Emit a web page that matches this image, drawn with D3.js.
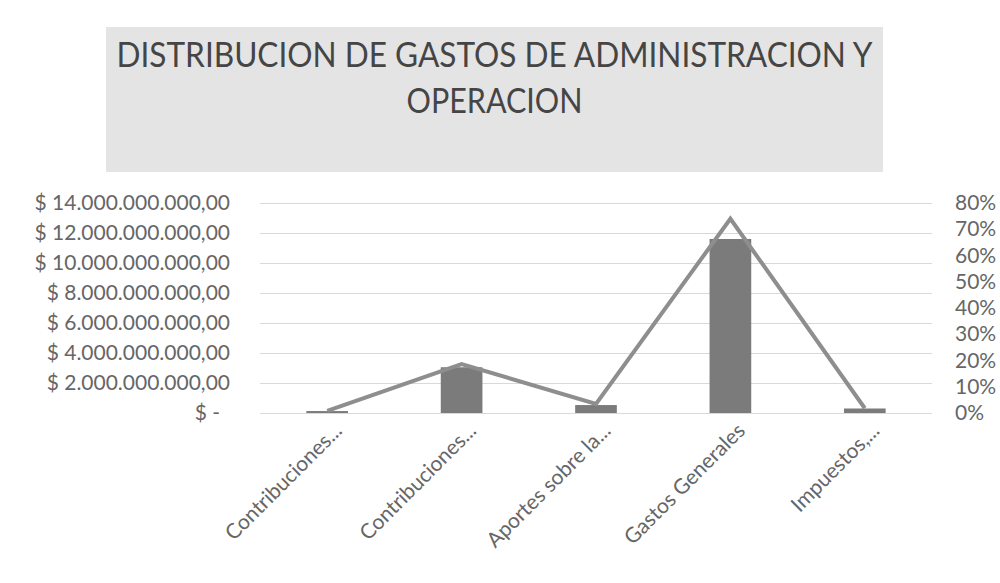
<!DOCTYPE html>
<html>
<head>
<meta charset="utf-8">
<script src="https://cdn.jsdelivr.net/npm/d3@7"></script>
<style>
  body { margin: 0; background: #fff; }
  svg { font-family: Lato, "Open Sans", sans-serif; }
</style>
</head>
<body>
<div class="svg-container"></div>
<script>
// data
const categories = ["Contribuciones...", "Contribuciones...", "Aportes sobre la...", "Gastos Generales", "Impuestos,..."];
const gastos = [0.13e9, 3.05e9, 0.53e9, 11.6e9, 0.3e9];
const porcentaje = [0.008, 0.186, 0.035, 0.74, 0.018];
const leftTicks = [0, 2e9, 4e9, 6e9, 8e9, 10e9, 12e9, 14e9];
const rightTicks = [0, 0.1, 0.2, 0.3, 0.4, 0.5, 0.6, 0.7, 0.8];
const titleLines = ["DISTRIBUCION DE GASTOS DE ADMINISTRACION Y", "OPERACION"];

const width = 1000, height = 583;
const plot = { left: 260, right: 932, top: 203, bottom: 413 };

const svg = d3.select("div.svg-container").append("svg")
    .attr("width", width)
    .attr("height", height);

// title box
svg.append("rect")
    .attr("x", 106).attr("y", 27)
    .attr("width", 777).attr("height", 145)
    .attr("fill", "#e4e4e4");

const titleY = [67, 113];
const titleW = [756, 176];
titleLines.forEach((t, i) => {
    svg.append("text")
        .attr("x", 494.5).attr("y", titleY[i])
        .attr("text-anchor", "middle")
        .attr("font-size", 34)
        .attr("fill", "#454545")
        .attr("textLength", titleW[i])
        .attr("lengthAdjust", "spacingAndGlyphs")
        .text(t);
});

const x = d3.scaleBand().domain(d3.range(categories.length))
    .range([plot.left, plot.right])
    .paddingInner(0.69).paddingOuter(0.345);
const y = d3.scaleLinear().domain([0, 14e9]).range([plot.bottom, plot.top]);
const y2 = d3.scaleLinear().domain([0, 0.8]).range([plot.bottom, plot.top]);

const locale = d3.formatLocale({ decimal: ",", thousands: ".", grouping: [3], currency: ["$ ", ""] });
const money = locale.format("$,.2f");

// gridlines
const grid = svg.append("g")
    .attr("transform", `translate(${plot.left},0)`)
    .call(d3.axisLeft(y).tickValues(leftTicks).tickSize(-(plot.right - plot.left)).tickFormat(""));
grid.select(".domain").remove();
grid.selectAll("line").attr("stroke", "#d9d9d9");

// left axis
const yAxisG = svg.append("g")
    .attr("transform", `translate(230,0)`)
    .call(d3.axisLeft(y).tickValues(leftTicks).tickSize(0).tickPadding(0)
        .tickFormat(d => d === 0 ? "$ -" : money(d)));
yAxisG.select(".domain").remove();
yAxisG.selectAll("text")
    .attr("font-size", 21)
    .attr("font-family", "Lato")
    .attr("fill", "#666")
    .attr("dx", d => d === 0 ? -10 : 0);

// right axis
const y2AxisG = svg.append("g")
    .attr("transform", `translate(955,0)`)
    .call(d3.axisRight(y2).tickValues(rightTicks).tickSize(0).tickPadding(0)
        .tickFormat(d3.format(".0%")));
y2AxisG.select(".domain").remove();
y2AxisG.selectAll("text")
    .attr("font-size", 21)
    .attr("font-family", "Lato")
    .attr("fill", "#666");

// bars
svg.append("g").selectAll("rect")
    .data(gastos)
    .join("rect")
    .attr("x", (d, i) => x(i))
    .attr("width", x.bandwidth())
    .attr("y", d => y(d))
    .attr("height", d => y(0) - y(d))
    .attr("fill", "#7b7b7b");

// percentage line
const line = d3.line()
    .x((d, i) => x(i) + x.bandwidth() / 2)
    .y(d => y2(d));
svg.append("path")
    .datum(porcentaje)
    .attr("fill", "none")
    .attr("stroke", "#8e8e8e")
    .attr("stroke-width", 4)
    .attr("stroke-linejoin", "miter")
    .attr("d", line);

// category labels
svg.append("g").selectAll("text")
    .data(categories)
    .join("text")
    .attr("transform", (d, i) => `translate(${x(i) + x.bandwidth() / 2 + 16},432) rotate(-45)`)
    .attr("text-anchor", "end")
    .attr("font-size", 21)
    .attr("fill", "#666")
    .text(d => d);
</script>
</body>
</html>
